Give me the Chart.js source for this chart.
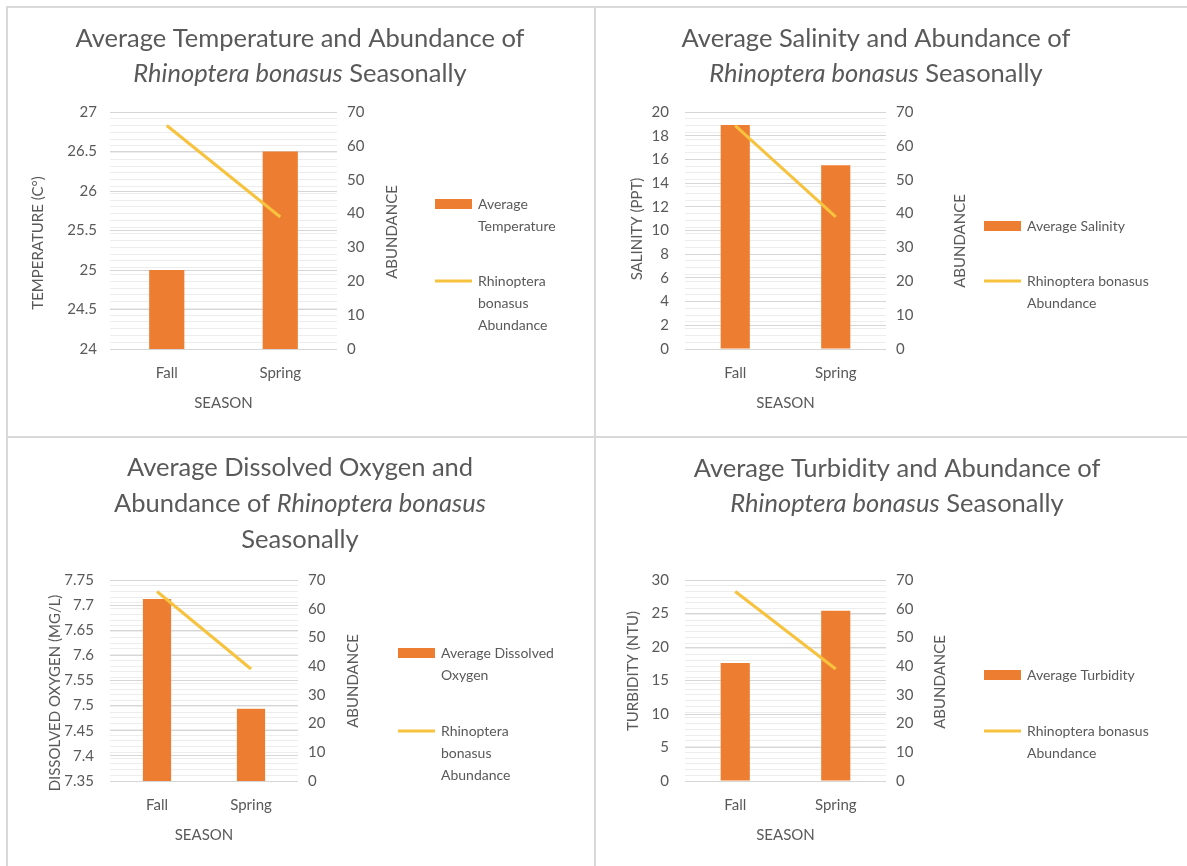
<!DOCTYPE html>
<html>
<head>
<meta charset="utf-8">
<script src="https://cdn.jsdelivr.net/npm/chart.js@4.4.1/dist/chart.umd.min.js"></script>
<style>
  html, body { margin: 0; padding: 0; background: #ffffff; }
  body { width: 1187px; height: 866px; position: relative; overflow: hidden; }
  canvas { position: absolute; }
  .rule { position: absolute; background: #d9d9d9; }
</style>
</head>
<body>
<div class="rule" style="left:6px;top:6px;width:1181px;height:2px"></div>
<div class="rule" style="left:6px;top:6px;width:2px;height:860px"></div>
<div class="rule" style="left:594px;top:6px;width:2px;height:860px"></div>
<div class="rule" style="left:6px;top:436px;width:1181px;height:2px"></div>

<canvas id="tempChart" width="586" height="428" style="left:8px;top:8px"></canvas>
<canvas id="salChart" width="591" height="428" style="left:596px;top:8px"></canvas>
<canvas id="doChart" width="586" height="428" style="left:8px;top:438px"></canvas>
<canvas id="turbChart" width="591" height="428" style="left:596px;top:438px"></canvas>

<script>
// ---- data ----
const seasons = ['Fall', 'Spring'];
const abundance = [66, 39];
const avgTemperature = [25.0, 26.5];
const avgSalinity = [18.9, 15.5];
const avgDissolvedOxygen = [7.712, 7.494];
const avgTurbidity = [17.6, 25.4];

// ---- axis tick labels ----
const temperatureTicks = ['24', '24.5', '25', '25.5', '26', '26.5', '27'];
const salinityTicks = ['0', '2', '4', '6', '8', '10', '12', '14', '16', '18', '20'];
const oxygenTicks = ['7.35', '7.4', '7.45', '7.5', '7.55', '7.6', '7.65', '7.7', '7.75'];
const turbidityTicks = ['0', '5', '10', '15', '20', '25', '30'];
const abundanceTicks = ['0', '10', '20', '30', '40', '50', '60', '70'];

const TEXT = '#595959';
const BAR = '#ED7D31';
const LINE = '#F7C23E';
const FONT = 'Lato, "Open Sans", "DejaVu Sans", sans-serif';

// Titles, axis titles and legend are painted by this plugin so that the
// title can mix upright and italic runs and the legend can wrap.
const panelDecor = {
  id: 'panelDecor',
  afterDraw(chart, args, o) {
    const ctx = chart.ctx;
    const area = chart.chartArea;
    ctx.save();
    ctx.fillStyle = TEXT;
    ctx.textBaseline = 'middle';

    // chart title
    const tf = (it) => (it ? 'italic ' : '') + o.title.size + 'px ' + FONT;
    o.title.lines.forEach((segs, i) => {
      const y = o.title.y + i * o.title.lineHeight;
      let total = 0;
      segs.forEach(s => { ctx.font = tf(s.italic); total += ctx.measureText(s.text).width; });
      let x = o.title.x - total / 2;
      ctx.textAlign = 'left';
      segs.forEach(s => {
        ctx.font = tf(s.italic);
        ctx.fillText(s.text, x, y);
        x += ctx.measureText(s.text).width;
      });
    });

    // axis titles
    ctx.font = o.axisSize + 'px ' + FONT;
    ctx.textAlign = 'center';
    [o.leftTitle, o.rightTitle].forEach(t => {
      ctx.save();
      ctx.translate(t.x, t.y);
      ctx.rotate(-Math.PI / 2);
      ctx.fillText(t.text, 0, 0);
      ctx.restore();
    });
    ctx.fillText(o.bottomTitle.text, (area.left + area.right) / 2, o.bottomTitle.y);

    // legend
    const lg = o.legend;
    ctx.font = lg.size + 'px ' + FONT;
    ctx.textAlign = 'left';
    chart.data.datasets.forEach((ds, i) => {
      const item = lg.items[i];
      if (ds.type === 'line') {
        ctx.fillStyle = ds.borderColor;
        ctx.fillRect(lg.x, item.y - 1.5, lg.swatch, 3);
      } else {
        ctx.fillStyle = ds.backgroundColor;
        ctx.fillRect(lg.x, item.y - 5, lg.swatch, 10);
      }
      ctx.fillStyle = TEXT;
      item.lines.forEach((txt, k) => ctx.fillText(txt, lg.textX, item.y + k * lg.lineHeight));
    });
    ctx.restore();
  }
};

function buildChart(id, cfg) {
  const canvas = document.getElementById(id);
  const W = canvas.width, H = canvas.height;
  const g = cfg.area;
  const RIGHT_W = 40, BOTTOM_H = 40;
  const leftTicks = cfg.leftTicks.map(Number);

  return new Chart(canvas, {
    data: {
      labels: seasons,
      datasets: [
        {
          type: 'bar',
          label: cfg.barLabel,
          data: cfg.values,
          backgroundColor: BAR,
          yAxisID: 'y',
          order: 2,
          categoryPercentage: 1,
          barPercentage: cfg.barPct
        },
        {
          type: 'line',
          label: 'Rhinoptera bonasus Abundance',
          data: abundance,
          borderColor: LINE,
          backgroundColor: LINE,
          borderWidth: 3,
          pointRadius: 0,
          tension: 0,
          yAxisID: 'y1',
          order: 1
        }
      ]
    },
    options: {
      responsive: false,
      animation: false,
      devicePixelRatio: 1,
      layout: {
        padding: { left: 0, top: g.top, right: W - g.right - RIGHT_W, bottom: H - g.bottom - BOTTOM_H }
      },
      plugins: {
        legend: { display: false },
        title: { display: false },
        tooltip: { enabled: false },
        panelDecor: cfg.decor
      },
      scales: {
        x: {
          type: 'category',
          offset: true,
          grid: { display: false },
          border: { display: false },
          ticks: { color: TEXT, font: { family: FONT, size: 15 }, padding: 7 },
          afterFit: s => { s.height = BOTTOM_H; }
        },
        y1: {
          position: 'right',
          min: 0,
          max: 70,
          afterBuildTicks: s => {
            const t = [];
            for (let v = 0; v <= 70; v += 2) t.push({ value: v });
            s.ticks = t;
          },
          ticks: {
            color: TEXT, font: { family: FONT, size: 15 }, padding: 10,
            autoSkip: false,
            callback: v => (v % 10 === 0 ? abundanceTicks[v / 10] : '')
          },
          grid: { color: '#ededed', lineWidth: 1, drawTicks: false, drawOnChartArea: true },
          border: { display: false },
          afterFit: s => { s.width = RIGHT_W; }
        },
        y: {
          position: 'left',
          min: leftTicks[0],
          max: leftTicks[leftTicks.length - 1],
          afterBuildTicks: s => { s.ticks = leftTicks.map(v => ({ value: v })); },
          ticks: {
            color: TEXT, font: { family: FONT, size: 15 }, padding: cfg.leftPad,
            autoSkip: false,
            callback: (v, i) => cfg.leftTicks[i]
          },
          grid: { color: '#d6d6d6', lineWidth: 1, drawTicks: false },
          border: { display: false },
          afterFit: s => { s.width = g.left; }
        }
      }
    },
    plugins: [panelDecor]
  });
}

const up = t => ({ text: t, italic: false });
const it = t => ({ text: t, italic: true });

buildChart('tempChart', {
  area: { left: 102, right: 329, top: 104, bottom: 341 },
  values: avgTemperature, leftTicks: temperatureTicks, leftPad: 13, barPct: 0.31,
  barLabel: 'Average Temperature',
  decor: {
    title: { x: 292, y: 31, lineHeight: 35, size: 25.5,
      lines: [[up('Average Temperature and Abundance of')], [it('Rhinoptera bonasus'), up(' Seasonally')]] },
    axisSize: 15,
    leftTitle: { text: 'TEMPERATURE (C°)', x: 30, y: 235 },
    rightTitle: { text: 'ABUNDANCE', x: 384, y: 224 },
    bottomTitle: { text: 'SEASON', y: 395 },
    legend: { x: 427, textX: 470, swatch: 37, size: 14, lineHeight: 22,
      items: [{ y: 196, lines: ['Average', 'Temperature'] }, { y: 273, lines: ['Rhinoptera', 'bonasus', 'Abundance'] }] }
  }
});

buildChart('salChart', {
  area: { left: 89, right: 290, top: 104, bottom: 341 },
  values: avgSalinity, leftTicks: salinityTicks, leftPad: 16, barPct: 0.29,
  barLabel: 'Average Salinity',
  decor: {
    title: { x: 280, y: 31, lineHeight: 35, size: 25.5,
      lines: [[up('Average Salinity and Abundance of')], [it('Rhinoptera bonasus'), up(' Seasonally')]] },
    axisSize: 15,
    leftTitle: { text: 'SALINITY (PPT)', x: 41, y: 221 },
    rightTitle: { text: 'ABUNDANCE', x: 364, y: 233 },
    bottomTitle: { text: 'SEASON', y: 395 },
    legend: { x: 388, textX: 431, swatch: 37, size: 14, lineHeight: 22,
      items: [{ y: 218, lines: ['Average Salinity'] }, { y: 273, lines: ['Rhinoptera bonasus', 'Abundance'] }] }
  }
});

buildChart('doChart', {
  area: { left: 102, right: 290, top: 142, bottom: 343 },
  values: avgDissolvedOxygen, leftTicks: oxygenTicks, leftPad: 16, barPct: 0.30,
  barLabel: 'Average Dissolved Oxygen',
  decor: {
    title: { x: 292, y: 30, lineHeight: 36, size: 25.5,
      lines: [[up('Average Dissolved Oxygen and')], [up('Abundance of '), it('Rhinoptera bonasus')], [up('Seasonally')]] },
    axisSize: 15,
    leftTitle: { text: 'DISSOLVED OXYGEN (MG/L)', x: 47, y: 255 },
    rightTitle: { text: 'ABUNDANCE', x: 345, y: 243 },
    bottomTitle: { text: 'SEASON', y: 397 },
    legend: { x: 390, textX: 433, swatch: 37, size: 14, lineHeight: 22,
      items: [{ y: 215, lines: ['Average Dissolved', 'Oxygen'] }, { y: 293, lines: ['Rhinoptera', 'bonasus', 'Abundance'] }] }
  }
});

buildChart('turbChart', {
  area: { left: 89, right: 290, top: 142, bottom: 343 },
  values: avgTurbidity, leftTicks: turbidityTicks, leftPad: 16, barPct: 0.29,
  barLabel: 'Average Turbidity',
  decor: {
    title: { x: 301, y: 31, lineHeight: 35, size: 25.5,
      lines: [[up('Average Turbidity and Abundance of')], [it('Rhinoptera bonasus'), up(' Seasonally')]] },
    axisSize: 15,
    leftTitle: { text: 'TURBIDITY (NTU)', x: 37, y: 233 },
    rightTitle: { text: 'ABUNDANCE', x: 344, y: 244 },
    bottomTitle: { text: 'SEASON', y: 397 },
    legend: { x: 388, textX: 431, swatch: 37, size: 14, lineHeight: 22,
      items: [{ y: 237, lines: ['Average Turbidity'] }, { y: 293, lines: ['Rhinoptera bonasus', 'Abundance'] }] }
  }
});
</script>
</body>
</html>
